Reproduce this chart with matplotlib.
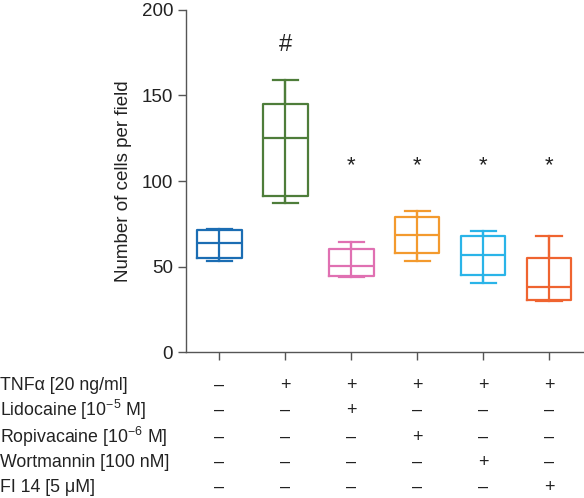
import matplotlib
matplotlib.use("Agg")
import matplotlib.pyplot as plt
from matplotlib.transforms import blended_transform_factory

plt.rcParams['font.family'] = ['Liberation Sans', 'DejaVu Sans']
plt.rcParams['mathtext.fontset'] = 'custom'
plt.rcParams['mathtext.rm'] = 'Liberation Sans'

# Data
groups = ["Control", "TNFa", "TNFa+Lido", "TNFa+Ropi", "TNFa+Wort", "TNFa+FI14"]
whisker_low = [53.0, 87.4, 44.1, 53.0, 40.4, 29.9]
q1 = [55.2, 91.0, 44.7, 57.8, 45.1, 30.6]
median = [64.0, 125.3, 50.3, 68.3, 56.8, 38.0]
q3 = [71.2, 145.0, 60.5, 79.0, 67.9, 55.2]
whisker_high = [71.8, 159.0, 64.4, 82.3, 71.0, 67.7]
colors = ["#1b6db3", "#4e7d3a", "#e070b2", "#f39a2e", "#2ab4e8", "#ef6430"]
marks = ["", "#", "*", "*", "*", "*"]
mark_y = [None, 179.5, 112.0, 112.0, 112.0, 112.0]

row_labels = ["TNF\u03b1 [20 ng/ml]", "Lidocaine [10$^{\u22125}$ M]",
              "Ropivacaine [10$^{\u22126}$ M]", "Wortmannin [100 nM]",
              "FI 14 [5 \u03bcM]"]
row_values = [
    ["\u2013", "+", "+", "+", "+", "+"],
    ["\u2013", "\u2013", "+", "\u2013", "\u2013", "\u2013"],
    ["\u2013", "\u2013", "\u2013", "+", "\u2013", "\u2013"],
    ["\u2013", "\u2013", "\u2013", "\u2013", "+", "\u2013"],
    ["\u2013", "\u2013", "\u2013", "\u2013", "\u2013", "+"],
]

fig = plt.figure(figsize=(5.84, 4.98), dpi=100)
ax = fig.add_axes([0.318, 0.293, 0.682, 0.687])

positions = list(range(len(groups)))
stats = []
for i in positions:
    stats.append(dict(med=median[i], q1=q1[i], q3=q3[i],
                      whislo=whisker_low[i], whishi=whisker_high[i], fliers=[]))

bp = ax.bxp(stats, positions=positions, widths=0.68, showfliers=False,
            patch_artist=False, manage_ticks=False)
lw = 1.6
for i in positions:
    c = colors[i]
    bp['boxes'][i].set(color=c, linewidth=lw)
    bp['medians'][i].set(color=c, linewidth=lw)
    for w in bp['whiskers'][2 * i:2 * i + 2]:
        w.set(color=c, linewidth=lw)
    for cap in bp['caps'][2 * i:2 * i + 2]:
        cap.set(color=c, linewidth=lw)
        xd = cap.get_xdata()
        cx = (xd[0] + xd[1]) / 2
        cap.set_xdata([cx - 0.19, cx + 0.19])
    ax.vlines(i, whisker_low[i], whisker_high[i], color=c, linewidth=lw)

for i, m in enumerate(marks):
    if m:
        if m == '#':
            ax.text(i, mark_y[i], m, ha='center', va='center',
                    fontsize=17, color='#222222')
        else:
            ax.text(i, mark_y[i] - 3, m, ha='center', va='center',
                    fontsize=16, color='#222222')

ax.set_xlim(-0.506, 5.53)
ax.set_ylim(0, 200)
ax.set_yticks([0, 50, 100, 150, 200])
ax.set_xticks(positions)
ax.set_xticklabels([])
ax.spines['top'].set_visible(False)
ax.spines['right'].set_visible(False)
for s in ['left', 'bottom']:
    ax.spines[s].set_color('#555555')
    ax.spines[s].set_linewidth(1.0)
ax.tick_params(axis='both', colors='#555555', length=6, width=1.0,
               labelsize=13.5, labelcolor='#222222', pad=3)
ax.set_ylabel("Number of cells per field", fontsize=13.5, color='#222222', labelpad=7)

trans = blended_transform_factory(ax.transData, fig.transFigure)
row_y_px = [385, 410, 437, 462, 487]
for r, lab in enumerate(row_labels):
    yf = 1 - row_y_px[r] / 498
    fig.text(0.0, yf, lab, ha='left', va='center', fontsize=12.8, color='#222222')
    for i in positions:
        ax.text(i, yf, row_values[r][i], transform=trans, ha='center',
                va='center', fontsize=13, color='#222222')

fig.savefig("out.png", dpi=100)
